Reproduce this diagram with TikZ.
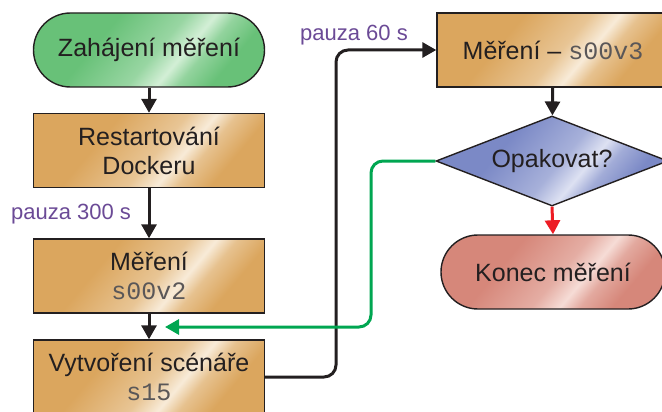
\documentclass[tikz,border=0pt]{standalone}
\usepackage{fontspec}
\setmainfont{Liberation Sans}
\setmonofont{Liberation Mono}
\usetikzlibrary{arrows.meta,shapes.geometric}

\definecolor{ink}{HTML}{231F20}
\definecolor{orbase}{HTML}{DBA65E}
\definecolor{orlite}{HTML}{F8EBD8}
\definecolor{grbase}{HTML}{68C178}
\definecolor{grlite}{HTML}{D3EFD6}
\definecolor{blbase}{HTML}{7B89C6}
\definecolor{bllite}{HTML}{DDE1F2}
\definecolor{rdbase}{HTML}{D6877A}
\definecolor{rdlite}{HTML}{F6DCD6}
\definecolor{labelpurple}{HTML}{6B4A96}
\definecolor{loopgreen}{HTML}{00A651}
\definecolor{stopred}{HTML}{ED1C24}

% glossy diagonal streak across each filled shape
\pgfdeclarehorizontalshading{orshine}{100bp}{color(0bp)=(orbase); color(36bp)=(orbase); color(52bp)=(orbase!55!orlite); color(59bp)=(orlite); color(64bp)=(orbase!60!orlite); color(72bp)=(orbase); color(100bp)=(orbase)}
\pgfdeclarehorizontalshading{grshine}{100bp}{color(0bp)=(grbase); color(36bp)=(grbase); color(52bp)=(grbase!55!grlite); color(59bp)=(grlite); color(64bp)=(grbase!60!grlite); color(72bp)=(grbase); color(100bp)=(grbase)}
\pgfdeclarehorizontalshading{blshine}{100bp}{color(0bp)=(blbase); color(36bp)=(blbase); color(52bp)=(blbase!55!bllite); color(59bp)=(bllite); color(64bp)=(blbase!60!bllite); color(72bp)=(blbase); color(100bp)=(blbase)}
\pgfdeclarehorizontalshading{rdshine}{100bp}{color(0bp)=(rdbase); color(36bp)=(rdbase); color(52bp)=(rdbase!55!rdlite); color(59bp)=(rdlite); color(64bp)=(rdbase!60!rdlite); color(72bp)=(rdbase); color(100bp)=(rdbase)}

\tikzset{
  base/.style={draw=ink, line width=1.4pt, text=ink, align=center,
    font=\fontsize{25}{29}\selectfont, inner sep=0pt},
  procbox/.style={base, shade, shading=orshine, shading angle=-40,
    minimum width=231pt, minimum height=74pt},
  startterm/.style={base, shade, shading=grshine, shading angle=-40,
    rounded corners=37pt, minimum width=231pt, minimum height=74pt},
  endterm/.style={base, shade, shading=rdshine, shading angle=-40,
    rounded corners=37pt, minimum width=224pt, minimum height=74pt},
  decision/.style={base, diamond, aspect=2.58, shade, shading=blshine,
    shading angle=-40, minimum width=232pt, minimum height=90pt},
  flow/.style={draw=ink, line width=3pt,
    -{Triangle[length=14pt,width=15pt]}},
  loopflow/.style={draw=loopgreen, line width=3pt, rounded corners=12pt,
    -{Triangle[length=14pt,width=15pt]}},
  stopflow/.style={draw=stopred, line width=3pt,
    -{Triangle[length=14pt,width=15pt]}},
  pause/.style={text=labelpurple, font=\fontsize{22}{26}\selectfont},
  code/.style={text=ink!75, font=\ttfamily}
}

\begin{document}
\begin{tikzpicture}[x=1pt,y=-1pt]
\clip (0,0) rectangle (662,412);

% left column
\node[startterm] (start) at (149,50) {Zahájení měření};
\node[procbox] (restart) at (149,150.5) {Restartování\\Dockeru};
\node[procbox] (meas2) at (149,276) {Měření\\{\color{ink!75}\ttfamily s00v2}};
\node[procbox] (scen) at (149,377) {Vytvoření scénáře\\{\color{ink!75}\ttfamily s15}};

% right column
\node[procbox, minimum width=232pt] (meas3) at (553,50) {Měření – {\color{ink!75}\ttfamily s00v3}};
\node[decision] (again) at (552,161) {Opakovat?};
\node[endterm] (stop) at (553,272) {Konec měření};

% pause labels
\node[pause] (p300) at (71,214) {pauza 300 s};
\node[pause] (p60) at (354,35) {pauza 60 s};

% connectors
\draw[flow] (start) -- (restart);
\draw[flow] (restart) -- (meas2);
\draw[flow] (meas2) -- (scen);
\draw[flow, rounded corners=12pt] (scen.east) -- (336,377) |- (meas3.west);
\draw[flow] (meas3) -- (again);
\draw[stopflow] (again.south) -- (stop.north);
\coordinate (loopin) at (165,327);
\draw[loopflow] (again.west) -| (371,327) -- (loopin);
\end{tikzpicture}
\end{document}
